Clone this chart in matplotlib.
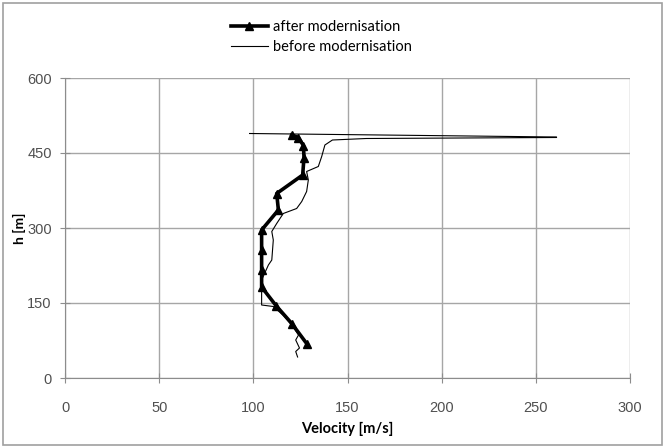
import matplotlib.pyplot as plt
from matplotlib.patches import Rectangle

# velocity profiles
after_v = [120.4, 123.9, 126.6, 126.9, 126.2, 112.4, 113.3, 104.4, 104.4, 104.4, 104.4, 112.0, 120.4, 128.3]
after_h = [486, 481, 465, 441, 406, 369, 336, 296, 256, 216, 182, 145, 109, 69]

before_v = [98, 261, 261, 160, 142, 138, 136.3, 134.5, 128.3, 129.2, 128.3, 125.7, 123, 115.9,
            112.4, 109.8, 110.6, 109.8, 108, 104.4, 104.4, 110.6, 116, 121, 124, 122.5, 124.5, 122.5, 123.5]
before_h = [489, 482, 481, 479, 476, 466, 443, 423, 413, 396, 373, 353, 339, 329,
            309, 293, 276, 236, 226, 196, 146, 143, 125, 103, 86, 76, 60, 53, 42]

x_ticks = [0, 50, 100, 150, 200, 250, 300]
y_ticks = [0, 150, 300, 450, 600]

fig = plt.figure(figsize=(6.65, 4.47), dpi=100)
ax = fig.add_axes([65 / 665, 69 / 447, 565 / 665, 300 / 447])

ax.plot(after_v, after_h, color='black', lw=2.6, marker='^', ms=6, label='after modernisation', zorder=4)
ax.plot(before_v, before_h, color='black', lw=0.8, label='before modernisation', zorder=3)

ax.set_xlim(0, 300)
ax.set_ylim(0, 600)
ax.set_xticks(x_ticks)
ax.set_yticks(y_ticks)
ax.grid(True, color='#a6a6a6', lw=1.0)
ax.set_axisbelow(True)

for s in ['top', 'right']:
    ax.spines[s].set_visible(False)
for s in ['left', 'bottom']:
    ax.spines[s].set_color('#8c8c8c')
ax.tick_params(direction='inout', length=7, color='#8c8c8c', labelsize=10.5,
               labelcolor='#505050', labelfontfamily='Liberation Sans')
ax.tick_params(axis='x', pad=13)
ax.tick_params(axis='y', pad=6)

ax.set_xlabel('Velocity [m/s]', fontsize=10.5, fontweight='bold', family='Lato', labelpad=5)
ax.set_ylabel('h [m]', fontsize=10, fontweight='bold', family='Lato', labelpad=1)

fig.legend(loc='upper left', bbox_to_anchor=(218 / 665, 0.985), frameon=False,
           prop={'family': 'Lato', 'size': 10.5}, handlelength=2.5, handletextpad=0.4,
           labelspacing=0.45)

fig.patches.append(Rectangle((0.005, 0.004), 0.99, 0.99, transform=fig.transFigure,
                             fill=False, edgecolor='#a0a0a0', lw=1.2))

fig.savefig('out.png', dpi=100)
